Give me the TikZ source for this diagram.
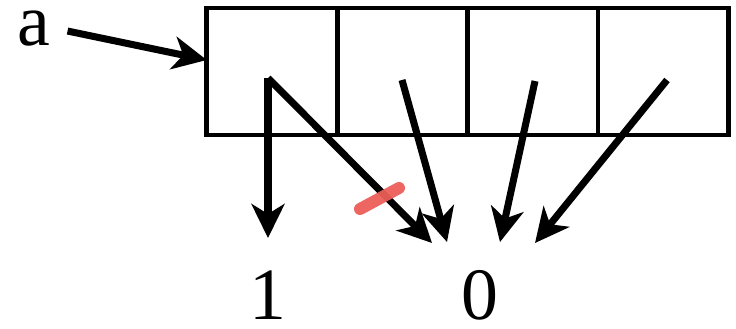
\documentclass[tikz,border=0pt]{standalone}
\usepackage{fontspec}
\setmainfont{Liberation Serif}
\usetikzlibrary{arrows.meta,positioning}

\definecolor{smudge}{RGB}{236,94,88}

\tikzset{
  cell/.style={draw,line width=2.6pt,minimum width=2.61cm,minimum height=2.54cm,inner sep=0pt,outer sep=0pt},
  val/.style={font=\fontsize{42}{42}\selectfont,inner sep=4pt},
  ptr/.style={line width=4pt,-{Stealth[length=0.68cm,width=0.66cm,inset=0.2cm]}}
}

\begin{document}
\begin{tikzpicture}[x=0.02cm,y=-0.02cm]
\useasboundingbox (0,0) rectangle (736,328);
 % the array a[0..3]
 \node[cell] (c1) at (272,71.5) {};
 \node[cell,right=0pt of c1] (c2) {};
 \node[cell,right=0pt of c2] (c3) {};
 \node[cell,right=0pt of c3] (c4) {};
 \node[val] (a) at (34,29) {a};
 \node[val] (one) at (268,295) {1};
 \node[val] (zero) at (480,295) {0};
 % where the pointers start and end
 \coordinate (s1) at (268,78);
 \coordinate (s2) at (402,80);
 \coordinate (s3) at (535,81);
 \coordinate (s4) at (667,80);
 \coordinate (t1) at (268,238);
 \coordinate (t2) at (432,243);
 \coordinate (t3) at (447,242);
 \coordinate (t4) at (500,242);
 \coordinate (t5) at (535,243);
 \draw[ptr,shorten <=0.2cm] (a.east) -- (c1.170);
 \draw[ptr] (s1) -- (t1);
 \draw[ptr] (s1) -- (t2);
 \draw[ptr] (s2) -- (t3);
 \draw[ptr] (s3) -- (t4);
 \draw[ptr] (s4) -- (t5);
 \draw[smudge,line width=0.24cm,line cap=round,opacity=0.95] (360,209) -- (399,188);
\end{tikzpicture}
\end{document}
